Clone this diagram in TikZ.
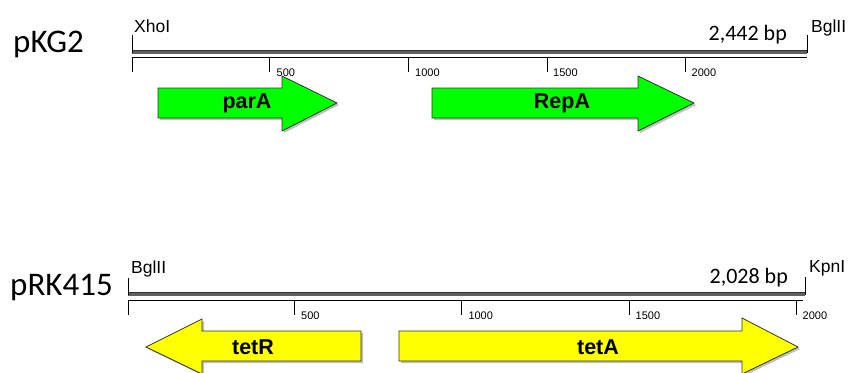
\documentclass[tikz,border=0pt]{standalone}
\usepackage{fontspec}
\setmainfont{Liberation Sans}
\newfontfamily\calib{Carlito}
\definecolor{genegreen}{RGB}{0,255,0}
\definecolor{geneyellow}{RGB}{255,255,0}
\definecolor{bargray}{RGB}{95,95,95}
\definecolor{bardark}{RGB}{50,50,50}
\begin{document}
\begin{tikzpicture}[x=1pt,y=-1pt,
  plasmid/.style={font=\calib\fontsize{33}{33}\selectfont, anchor=base west, inner sep=0},
  sizelbl/.style={font=\calib\fontsize{22}{22}\selectfont, anchor=base east, inner sep=0},
  sitelbl/.style={font=\fontsize{17.5}{17.5}\selectfont, anchor=base west, inner sep=0},
  scalelbl/.style={font=\fontsize{11}{11}\selectfont, anchor=base west, inner sep=0},
  genelbl/.style={font=\bfseries\fontsize{21.5}{21.5}\selectfont, inner sep=0},
  band/.style={draw=bargray, line width=3.8pt},
  bandedge/.style={draw=bardark, line width=1pt},
  ruler/.style={draw=black, line width=1pt},
  tick/.style={draw=black, line width=0.9pt},
  shadowfill/.style={fill=black!25, draw=none},
  genebox/.style={draw=black!80, line width=0.8pt}]
\useasboundingbox (0,0) rectangle (851,372);

% ---------- pKG2 ----------
\node[plasmid] (pkg) at (13,52) {pKG2};
\draw[band] (132,51.9) -- (807,51.9);
\draw[bandedge] (132,50.3) -- (807,50.3);
\draw[ruler] (132,57) -- (807,57);
\draw[tick] (132,35) -- (132,53);
\draw[tick] (807,35) -- (807,53);
\foreach \x in {132,269.5,408,547.7,685.7}{
  \draw[tick] (\x,57) -- (\x,72);
}
\node[scalelbl] (k500) at (276.5,76) {500};
\node[scalelbl] (k1000) at (415,76) {1000};
\node[scalelbl] (k1500) at (553,76) {1500};
\node[scalelbl] (k2000) at (691.5,76) {2000};
\node[sitelbl] (xho) at (134,32) {XhoI};
\node[sitelbl] (bgl1) at (811,32) {BglII};
\node[sizelbl] (s1) at (787,40) {2,442 bp};

% parA
\fill[shadowfill] (160,90) -- (284,90) -- (284,78) -- (339,105) -- (284,133) -- (284,120) -- (160,120) -- cycle;
\draw[genebox, fill=genegreen] (158,88) -- (282,88) -- (282,76) -- (337,103) -- (282,131) -- (282,118) -- (158,118) -- cycle;
\node[genelbl] (parA) at (247,103) {parA};
% RepA
\fill[shadowfill] (434,90) -- (640,90) -- (640,78) -- (696,105) -- (640,133) -- (640,120) -- (434,120) -- cycle;
\draw[genebox, fill=genegreen] (432,88) -- (638,88) -- (638,76) -- (694,103) -- (638,131) -- (638,118) -- (432,118) -- cycle;
\node[genelbl] (repA) at (562,103) {RepA};

% ---------- pRK415 ----------
\node[plasmid] (prk) at (10,295) {pRK415};
\draw[band] (128,293.7) -- (805,293.7);
\draw[bandedge] (128,292.1) -- (805,292.1);
\draw[ruler] (128,300) -- (803,300);
\draw[tick] (128,277.5) -- (128,295);
\draw[tick] (805,277) -- (805,295);
\foreach \x in {128,294.3,461.7,629,796}{
  \draw[tick] (\x,300) -- (\x,315);
}
\node[scalelbl] (r500) at (301,319) {500};
\node[scalelbl] (r1000) at (468.3,319) {1000};
\node[scalelbl] (r1500) at (635.5,319) {1500};
\node[scalelbl] (r2000) at (802.5,319) {2000};
\node[sitelbl] (bgl2) at (131,273) {BglII};
\node[sitelbl] (kpn) at (809,272) {KpnI};
\node[sizelbl] (s2) at (788,283) {2,028 bp};

% tetR (leftward)
\fill[shadowfill] (148,349) -- (204,321) -- (204,333) -- (363,333) -- (363,363) -- (204,363) -- (204,376) -- cycle;
\draw[genebox, fill=geneyellow] (146,347) -- (202,319) -- (202,331) -- (361,331) -- (361,361) -- (202,361) -- (202,374) -- cycle;
\node[genelbl] (tetR) at (253,347) {tetR};
% tetA
\fill[shadowfill] (401,333) -- (744,333) -- (744,320) -- (800,349) -- (744,376) -- (744,363) -- (401,363) -- cycle;
\draw[genebox, fill=geneyellow] (399,331) -- (742,331) -- (742,318) -- (798,347) -- (742,374) -- (742,361) -- (399,361) -- cycle;
\node[genelbl] (tetA) at (598,347) {tetA};
\end{tikzpicture}
\end{document}
